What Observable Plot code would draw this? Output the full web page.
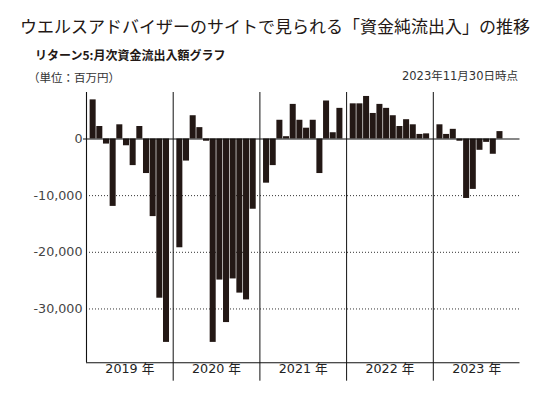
<!DOCTYPE html>
<html><head><meta charset="utf-8">
<script src="https://cdn.jsdelivr.net/npm/d3@7"></script>
<script src="https://cdn.jsdelivr.net/npm/@observablehq/plot@0.6"></script>
<style>
body{margin:0;background:#fff;}
#wrap{position:relative;width:551px;height:397px;overflow:hidden;font-family:"Noto Sans CJK JP",sans-serif;}
#hdr{position:relative;height:90px;}
.t{position:absolute;white-space:nowrap;line-height:1;}
#title{left:20px;top:17px;font-size:17px;color:#231815;font-weight:400;}
#sub{left:35px;top:49px;font-size:12px;font-weight:700;color:#231815;}
#unit{left:28px;top:72px;font-size:11.5px;color:#333;}
#date{right:33px;top:71px;font-size:11.5px;color:#333;font-family:"DejaVu Sans","Noto Sans CJK JP",sans-serif;}
#chart svg{display:block;}
</style></head>
<body><div id="wrap">
<div id="hdr">
<div class="t" id="title">ウエルスアドバイザーのサイトで見られる「資金純流出入」の推移</div>
<div class="t" id="sub">リターン5:月次資金流出入額グラフ</div>
<div class="t" id="unit">（単位：百万円）</div>
<div class="t" id="date">2023年11月30日時点</div>
</div>
<div id="chart"></div>
</div>
<script>
const years = [2019, 2020, 2021, 2022, 2023];
const yearLabels = ["2019 年", "2020 年", "2021 年", "2022 年", "2023 年"];
const flows2019 = [6900, 2200, -900, -11900, 2500, -1200, -4700, 2200, -6100, -13700, -28100, -35900];
const flows2020 = [-19200, -3900, 4100, 2000, -400, -35900, -24900, -32400, -24700, -27200, -28400, -12400];
const flows2021 = [-7800, -4700, 3300, 400, 6100, 3300, 1900, 3300, -6100, 6700, 1100, 5400];
const flows2022 = [6200, 6200, 7500, 4500, 6100, 5400, 4100, 2200, 3400, 2500, 800, 900];
const flows2023 = [2500, 800, 1700, -400, -10500, -8900, -2000, -600, -2700, 1300];
const yTicks = [0, -10000, -20000, -30000];

const flowsByYear = [flows2019, flows2020, flows2021, flows2022, flows2023];
const slotsPerYear = 13; // 12 months + half-slot padding each side
const data = [];
flowsByYear.forEach((arr, yi) => {
  arr.forEach((v, m) => {
    const s = yi * slotsPerYear + 0.5 + m;
    data.push({year: years[yi], month: m + 1, value: v, x1: s, x2: s + 1});
  });
});
const yearRows = years.map((y, i) => ({label: yearLabels[i], mid: i * slotsPerYear + slotsPerYear / 2, start: i * slotsPerYear}));
const yDomain = [-39500, 8200];
const fmt = d => (d < 0 ? "-" : "") + d3.format(",")(Math.abs(d));

const chart = Plot.plot({
  width: 551, height: 307,
  marginLeft: 86, marginRight: 31.5, marginTop: 2, marginBottom: 34.7,
  style: {fontFamily: "'DejaVu Sans','Noto Sans CJK JP',sans-serif", background: "#fff"},
  x: {domain: [0, years.length * slotsPerYear], axis: null},
  y: {domain: yDomain, axis: null},
  marks: [
    Plot.ruleY(yTicks.filter(d => d !== 0), {stroke: "#333", strokeDasharray: "1,2", strokeWidth: 1}),
    Plot.rect(data, {x1: "x1", x2: "x2", y1: 0, y2: "value", fill: "#231815", insetLeft: 0.3, insetRight: 0.35}),
    Plot.ruleY([0], {stroke: "#111", strokeWidth: 1.1, insetLeft: -3}),
    Plot.ruleY([yDomain[0]], {stroke: "#111", strokeWidth: 1.1}),
    Plot.ruleX([0], {stroke: "#111", strokeWidth: 1.1}),
    Plot.ruleX(yearRows.slice(1), {x: "start", stroke: "#111", strokeWidth: 1, insetBottom: -18.4}),
    Plot.axisY(yTicks, {tickSize: 0, tickPadding: 4, tickFormat: fmt, fontSize: 12.7, fill: "#444", label: null}),
    Plot.text(yearRows, {x: "mid", text: "label", frameAnchor: "bottom", dy: 10.5, fontSize: 12.7, fill: "#222"})
  ]
});
document.getElementById("chart").appendChild(chart);
</script>
</body></html>
